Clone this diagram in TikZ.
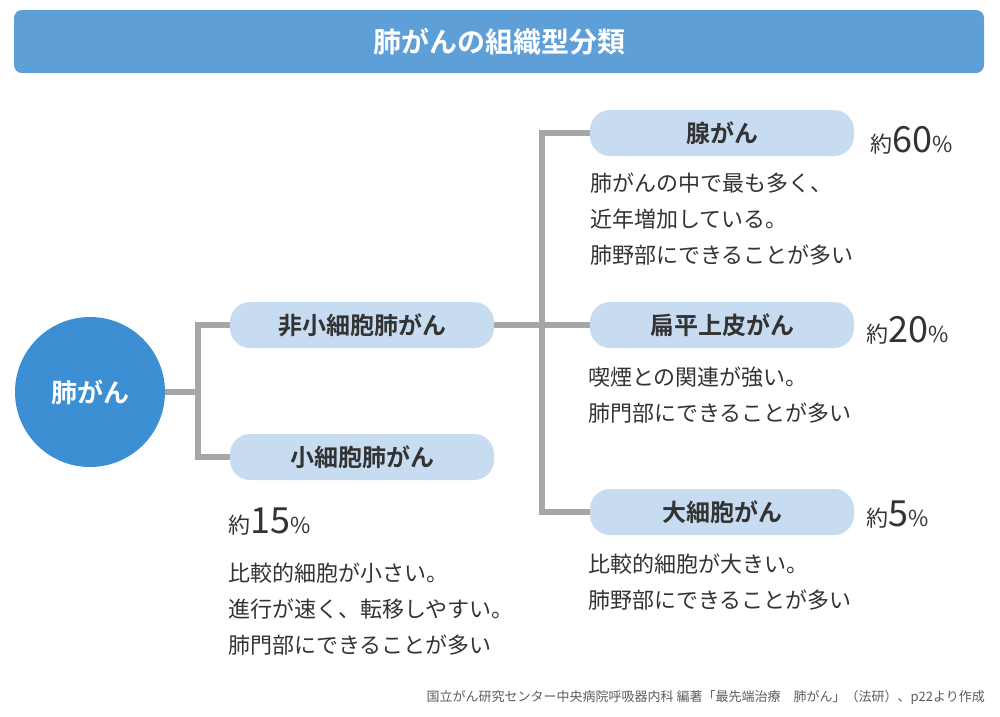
\documentclass[tikz,border=0pt]{standalone}
\usepackage{fontspec}
\setmainfont{Noto Sans CJK JP}
\newfontfamily\boldcjk{Noto Sans CJK JP Bold}
\usepackage{tikz}
\definecolor{titleblue}{HTML}{5E9FD8}
\definecolor{circblue}{HTML}{3C8FD3}
\definecolor{boxblue}{HTML}{C8DCF1}
\definecolor{linegray}{HTML}{A6A6A6}
\definecolor{txt}{HTML}{333333}
\newcommand{\pct}[2]{{\fontsize{22}{24}\selectfont #1}{\fontsize{36}{38}\selectfont #2}{\fontsize{22}{24}\selectfont \%}}

\begin{document}
\begin{tikzpicture}[x=1pt,y=-1pt,
    typebox/.style={fill=boxblue,rounded corners=20pt,minimum width=264pt,minimum height=46pt,
      text=txt,font=\boldcjk\fontsize{24}{26}\selectfont},
    desc/.style={anchor=north west,align=left,text=txt,font=\fontsize{22}{36}\selectfont,inner sep=0pt},
    conn/.style={draw=linegray,line width=6pt},
    pctlabel/.style={anchor=west,text=txt,inner sep=0pt}]
    \useasboundingbox (0,0) rectangle (1000,716);
    % Titulo
    \fill[titleblue,rounded corners=8pt] (14,10) rectangle (984,73);
    \node[text=white,font=\boldcjk\fontsize{28}{30}\selectfont] (title) at (499,42) {肺がんの組織型分類};
    % Raiz
    \node[circle,fill=circblue,minimum size=150pt,text=white,font=\boldcjk\fontsize{26}{28}\selectfont] (lung) at (90,392) {肺がん};
    % Ramos principais
    \node[typebox] (nsclc) at (362,325) {非小細胞肺がん};
    \node[typebox] (sclc) at (362,457) {小細胞肺がん};
    % Subtipos
    \node[typebox] (adeno) at (722,133) {腺がん};
    \node[typebox] (squam) at (722,325) {扁平上皮がん};
    \node[typebox] (large) at (722,512) {大細胞がん};
    % Ligacoes
    \coordinate (j1) at (198,392);
    \coordinate (j2) at (542,325);
    \draw[conn] (lung.east) -- (j1);
    \draw[conn] (nsclc.west) -| (j1) |- (sclc.west);
    \draw[conn] (nsclc.east) -- (j2);
    \draw[conn] (adeno.west) -| (j2) |- (large.west);
    \draw[conn] (j2) -- (squam.west);
    % Porcentagens
    \node[pctlabel] (p60) at (870,140) {\pct{約}{60}};
    \node[pctlabel] (p20) at (866,330) {\pct{約}{20}};
    \node[pctlabel] (p5) at (866,515) {\pct{約}{5}};
    \node[pctlabel] (p15) at (228,522) {\pct{約}{15}};
    % Descricoes
    \node[desc] (d60) at (590,173) {肺がんの中で最も多く、\\近年増加している。\\肺野部にできることが多い};
    \node[desc] (d20) at (588,367) {喫煙との関連が強い。\\肺門部にできることが多い};
    \node[desc] (d5) at (588,554) {比較的細胞が大きい。\\肺野部にできることが多い};
    \node[desc] (d15) at (228,563) {比較的細胞が小さい。\\進行が速く、転移しやすい。\\肺門部にできることが多い};
    % Fonte
    \node[anchor=east,text=txt!80,font=\fontsize{13}{15}\selectfont,inner sep=0pt] (src) at (985,697) {国立がん研究センター中央病院呼吸器内科 編著「最先端治療\quad 肺がん」（法研）、p22より作成};
\end{tikzpicture}
\end{document}
